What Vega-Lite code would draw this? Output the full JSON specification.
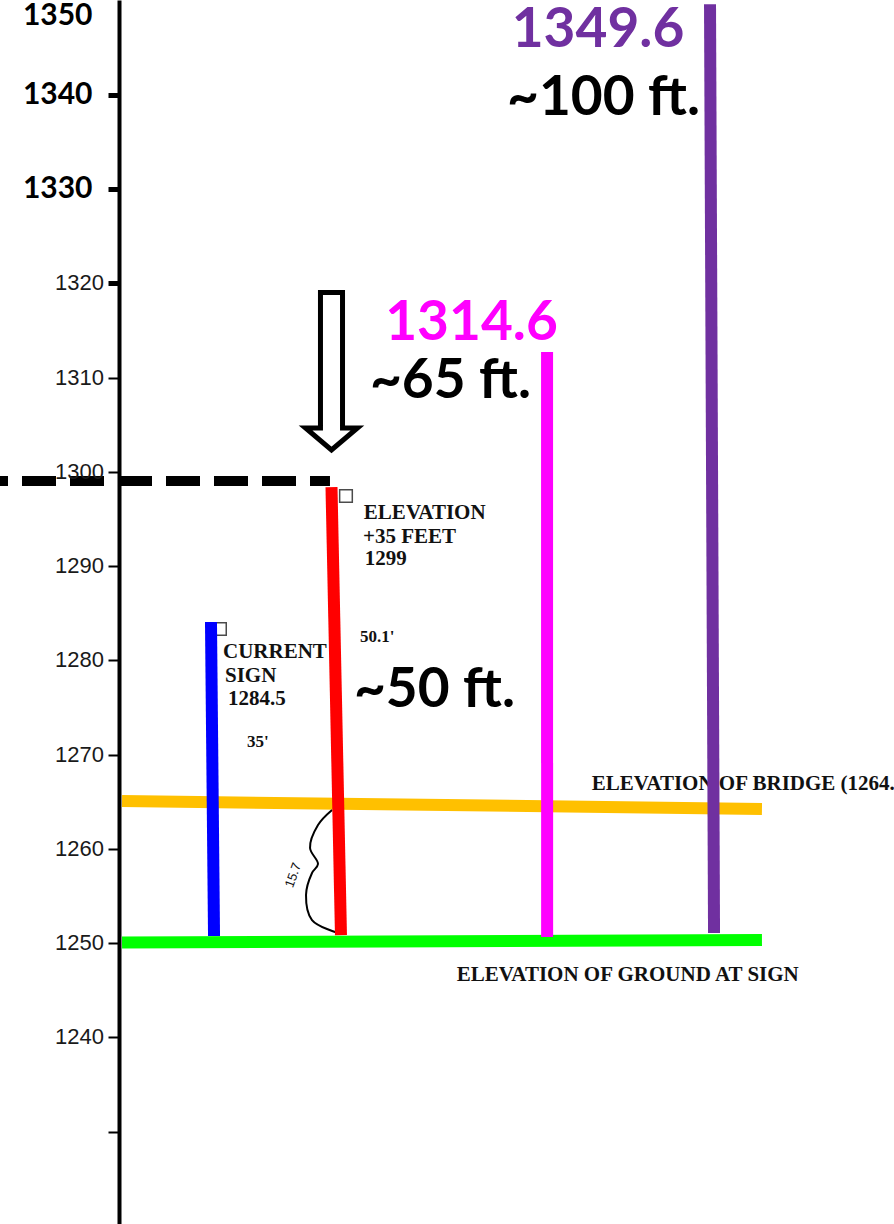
{
  "$schema": "https://vega.github.io/schema/vega-lite/v6.json",
  "width": 894,
  "height": 1224,
  "padding": 0,
  "autosize": {"type": "none"},
  "background": "white",
  "config": {"view": {"stroke": null}},
  "datasets": {
    "segments": [
      {"series": "bridge", "kind": "h", "pos": 13.65, "elev": 1265.08},
      {"series": "bridge", "kind": "h", "pos": 85.23, "elev": 1264.23},
      {"series": "ground", "kind": "h", "pos": 13.65, "elev": 1250.07},
      {"series": "ground", "kind": "h", "pos": 85.23, "elev": 1250.33},
      {"series": "current", "kind": "v", "pos": 23.6, "elev": 1284.07},
      {"series": "current", "kind": "v", "pos": 23.94, "elev": 1250.75},
      {"series": "proposed", "kind": "v", "pos": 37.08, "elev": 1298.39},
      {"series": "proposed", "kind": "v", "pos": 38.14, "elev": 1250.86},
      {"series": "option65", "kind": "v", "pos": 61.19, "elev": 1312.71},
      {"series": "option65", "kind": "v", "pos": 61.2, "elev": 1250.65},
      {"series": "option100", "kind": "v", "pos": 79.42, "elev": 1349.6},
      {"series": "option100", "kind": "v", "pos": 79.87, "elev": 1251.07},
      {"series": "note", "kind": "dash", "pos": 0, "elev": 1299.03},
      {"series": "note", "kind": "dash", "pos": 36.91, "elev": 1299.03}
    ],
    "notes": [
      {"grp": "scan", "pos": 40.7, "elev": 1295.0, "text": "ELEVATION"},
      {"grp": "scan", "pos": 40.6, "elev": 1292.45, "text": "+35 FEET"},
      {"grp": "scan", "pos": 40.8, "elev": 1290.12, "text": "1299"},
      {"grp": "scan", "pos": 24.94, "elev": 1280.25, "text": "CURRENT"},
      {"grp": "scan", "pos": 25.17, "elev": 1277.7, "text": "SIGN"},
      {"grp": "scan", "pos": 25.5, "elev": 1275.26, "text": "1284.5"},
      {"grp": "scan", "pos": 66.2, "elev": 1266.24, "text": "ELEVATION OF BRIDGE (1264."},
      {"grp": "scan", "pos": 51.1, "elev": 1245.98, "text": "ELEVATION OF GROUND AT SIGN"},
      {"grp": "scansmall", "pos": 27.63, "elev": 1270.81, "text": "35'"},
      {"grp": "scansmall", "pos": 40.27, "elev": 1281.95, "text": "50.1'"},
      {"grp": "big", "series": "option100", "pos": 66.89, "elev": 1345.07, "text": "1349.6"},
      {"grp": "big", "series": "note", "pos": 67.51, "elev": 1337.86, "text": "~100 ft."},
      {"grp": "big", "series": "option65", "pos": 52.74, "elev": 1313.99, "text": "1314.6"},
      {"grp": "big", "series": "note", "pos": 50.39, "elev": 1307.83, "text": "~65 ft."},
      {"grp": "big", "series": "note", "pos": 48.6, "elev": 1275.05, "text": "~50 ft."},
      {"grp": "hand", "pos": 32.8, "elev": 1257.2, "text": "15.7"}
    ],
    "ticklabels": [
      {"grp": "typedtop", "elev": 1350, "text": "1350"},
      {"grp": "typed", "elev": 1340, "text": "1340"},
      {"grp": "typed", "elev": 1330, "text": "1330"},
      {"grp": "hand", "elev": 1320, "text": "1320"},
      {"grp": "hand", "elev": 1310, "text": "1310"},
      {"grp": "hand", "elev": 1300, "text": "1300"},
      {"grp": "hand", "elev": 1290, "text": "1290"},
      {"grp": "hand", "elev": 1280, "text": "1280"},
      {"grp": "hand", "elev": 1270, "text": "1270"},
      {"grp": "hand", "elev": 1260, "text": "1260"},
      {"grp": "hand", "elev": 1250, "text": "1250"},
      {"grp": "hand", "elev": 1240, "text": "1240"}
    ],
    "brace": [
      {"i": 1, "pos": 37.14, "elev": 1264.12},
      {"i": 2, "pos": 35.57, "elev": 1262.53},
      {"i": 3, "pos": 34.68, "elev": 1260.09},
      {"i": 4, "pos": 35.57, "elev": 1258.39},
      {"i": 5, "pos": 34.9, "elev": 1257.44},
      {"i": 6, "pos": 34.23, "elev": 1255.1},
      {"i": 7, "pos": 34.9, "elev": 1252.45},
      {"i": 8, "pos": 37.81, "elev": 1251.07}
    ],
    "flags": [
      {"series": "current", "pos": 24.6, "elev": 1283.33},
      {"series": "proposed", "pos": 38.7, "elev": 1297.44}
    ],
    "arrow": [
      {"pos": 37.08, "elev": 1310.67}
    ]
  },
  "encoding": {
    "x": {"field": "pos", "type": "quantitative", "scale": {"domain": [0, 100], "nice": false, "zero": false}, "axis": null},
    "y": {
      "field": "elev", "type": "quantitative",
      "scale": {"domain": [1220.2, 1350.06], "nice": false, "zero": false},
      "axis": {
        "orient": "left", "offset": -119, "title": null, "labels": false, "grid": false,
        "values": [1230, 1240, 1250, 1260, 1270, 1280, 1290, 1300, 1310, 1320, 1330, 1340],
        "domainColor": "black", "domainWidth": 4,
        "tickColor": "black", "tickSize": 11,
        "tickWidth": {"condition": {"test": "datum.value >= 1320", "value": 5}, "value": 2}
      }
    }
  },
  "layer": [
    {
      "data": {"name": "segments"},
      "transform": [{"filter": "datum.kind == 'h'"}],
      "mark": {"type": "line", "strokeWidth": 12},
      "encoding": {
        "color": {"field": "series", "type": "nominal", "legend": null,
          "scale": {"domain": ["bridge", "ground", "current", "proposed", "option65", "option100", "note"],
                    "range": ["#FFC000", "#00FF00", "#0000FF", "#FF0000", "#FF00FF", "#7030A0", "#000000"]}},
        "detail": {"field": "series"}
      }
    },
    {
      "data": {"name": "segments"},
      "transform": [{"filter": "datum.kind == 'dash'"}],
      "mark": {"type": "line", "strokeWidth": 10, "color": "black", "strokeDash": [34, 14], "strokeDashOffset": 26},
      "encoding": {}
    },
    {
      "data": {"name": "notes"},
      "transform": [{"filter": "datum.grp == 'scan'"}],
      "mark": {"type": "text", "align": "left", "baseline": "alphabetic", "font": "Liberation Serif", "fontWeight": "bold", "fontSize": 21, "color": "#111111"},
      "encoding": {"text": {"field": "text"}}
    },
    {
      "data": {"name": "notes"},
      "transform": [{"filter": "datum.grp == 'scansmall'"}],
      "mark": {"type": "text", "align": "left", "baseline": "alphabetic", "font": "Liberation Serif", "fontWeight": "bold", "fontSize": 17, "color": "#111111"},
      "encoding": {"text": {"field": "text"}}
    },
    {
      "data": {"name": "notes"},
      "transform": [{"filter": "datum.grp == 'hand'"}],
      "mark": {"type": "text", "align": "center", "baseline": "middle", "font": "Liberation Sans", "fontSize": 13, "angle": 290, "color": "#111111"},
      "encoding": {"text": {"field": "text"}}
    },
    {
      "data": {"name": "flags"},
      "mark": {"type": "point", "shape": "square", "filled": false, "size": 160, "stroke": "black", "strokeWidth": 1.5},
      "encoding": {}
    },
    {
      "data": {"name": "brace"},
      "mark": {"type": "line", "interpolate": "catmull-rom", "strokeWidth": 2, "color": "black"},
      "encoding": {"order": {"field": "i", "type": "quantitative"}}
    },
    {
      "data": {"name": "segments"},
      "transform": [{"filter": "datum.kind == 'v'"}],
      "mark": {"type": "line", "strokeWidth": 12},
      "encoding": {
        "color": {"field": "series", "type": "nominal", "legend": null},
        "detail": {"field": "series"}
      }
    },
    {
      "data": {"name": "notes"},
      "transform": [{"filter": "datum.grp == 'big'"}],
      "mark": {"type": "text", "align": "center", "baseline": "alphabetic", "font": "Lato", "fontWeight": "bold", "fontSize": 55},
      "encoding": {
        "text": {"field": "text"},
        "color": {"field": "series", "type": "nominal", "legend": null}
      }
    },
    {
      "data": {"name": "ticklabels"},
      "transform": [{"filter": "datum.grp == 'typedtop'"}, {"calculate": "10.35", "as": "pos"}],
      "mark": {"type": "text", "align": "right", "baseline": "top", "font": "Lato", "fontWeight": "bold", "fontSize": 30, "color": "black"},
      "encoding": {"text": {"field": "text", "type": "nominal"}}
    },
    {
      "data": {"name": "ticklabels"},
      "transform": [{"filter": "datum.grp == 'typed'"}, {"calculate": "10.35", "as": "pos"}],
      "mark": {"type": "text", "align": "right", "baseline": "middle", "font": "Lato", "fontWeight": "bold", "fontSize": 30, "color": "black"},
      "encoding": {"text": {"field": "text", "type": "nominal"}}
    },
    {
      "data": {"name": "ticklabels"},
      "transform": [{"filter": "datum.grp == 'hand'"}, {"calculate": "11.63", "as": "pos"}],
      "mark": {"type": "text", "align": "right", "baseline": "middle", "font": "Liberation Sans", "fontSize": 22, "color": "#1a1a1a"},
      "encoding": {"text": {"field": "text", "type": "nominal"}}
    },
    {
      "data": {"name": "arrow"},
      "mark": {"type": "point", "shape": "M-0.14,-1L0.14,-1L0.14,0.72L0.33,0.72L0,1L-0.33,0.72L-0.14,0.72Z", "size": 24806, "filled": true, "fill": "white", "stroke": "black", "strokeWidth": 5, "opacity": 1, "fillOpacity": 1, "strokeJoin": "miter"},
      "encoding": {}
    }
  ]
}
